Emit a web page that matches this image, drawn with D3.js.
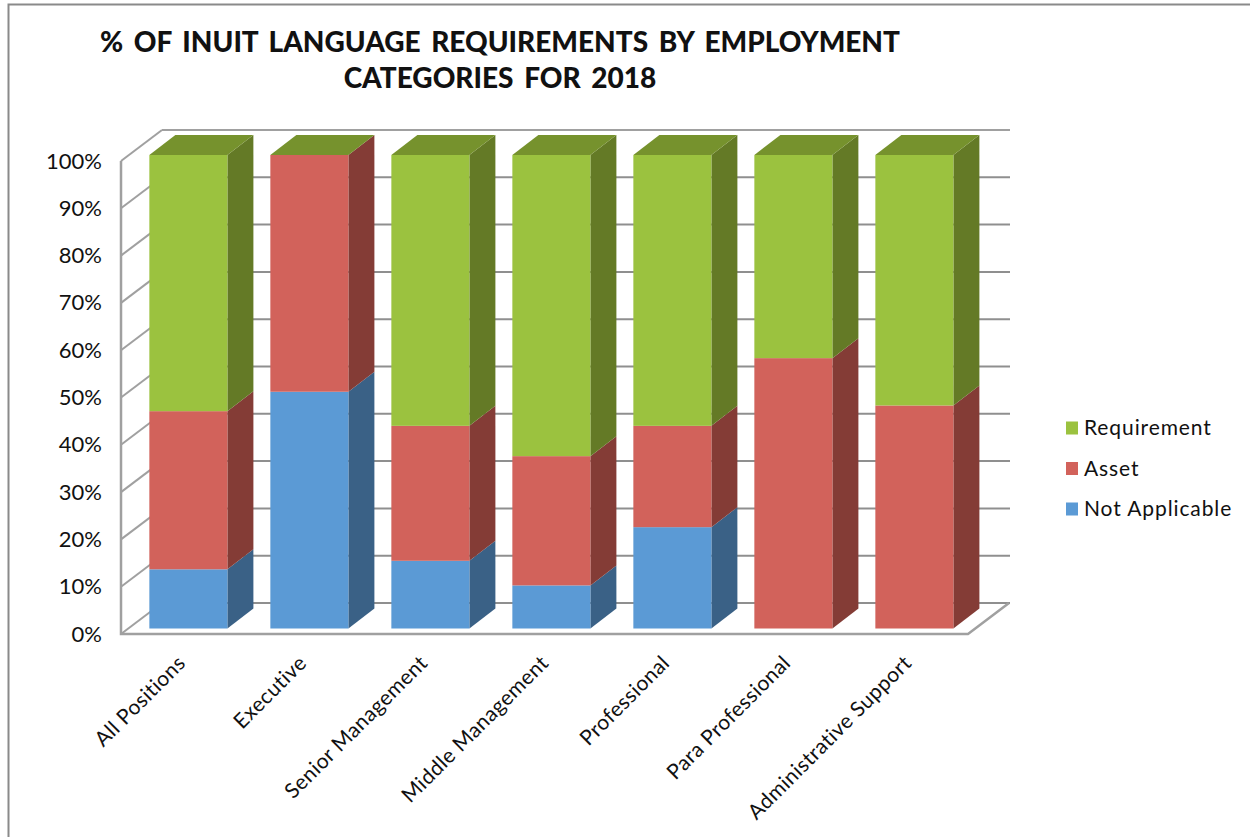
<!DOCTYPE html>
<html>
<head>
<meta charset="utf-8">
<script src="https://cdn.jsdelivr.net/npm/d3@7"></script>
<style>
  html, body { margin: 0; padding: 0; background: #fff; }
  svg { display: block; }
  text { font-family: Lato, "Open Sans", sans-serif; fill: #111; }
</style>
</head>
<body>
<script>
// Define data
const categories = ["All Positions", "Executive", "Senior Management", "Middle Management",
                    "Professional", "Para Professional", "Administrative Support"];
const notApplicable = [12.5, 50, 14.3, 9.1, 21.4, 0, 0];
const asset = [33.4, 50, 28.5, 27.3, 21.4, 57.1, 47.1];
const requirement = [54.1, 0, 57.2, 63.6, 57.2, 42.9, 52.9];
const seriesNames = ["Not Applicable", "Asset", "Requirement"];
const yTicks = [0, 10, 20, 30, 40, 50, 60, 70, 80, 90, 100];
const titleLines = ["% OF INUIT LANGUAGE REQUIREMENTS BY EMPLOYMENT", "CATEGORIES FOR 2018"];

const rows = categories.map((c, i) => ({
  category: c,
  "Not Applicable": notApplicable[i],
  "Asset": asset[i],
  "Requirement": requirement[i]
}));
const stacked = d3.stack().keys(seriesNames)(rows);

const width = 1250, height = 837;
const front = {"Not Applicable": "#5b9ad5", "Asset": "#d2625b", "Requirement": "#9bc23f"};
const side = {"Not Applicable": "#3a6186", "Asset": "#843c36", "Requirement": "#647a26"};
const top3d = {"Not Applicable": "#4a7fb0", "Asset": "#a84f49", "Requirement": "#76922d"};
const axisGrey = "#a0a0a0", gridGrey = "#8f8f8f";

const svg = d3.select("body").append("svg")
    .attr("width", width)
    .attr("height", height);

// Outer chart border, only top and left show in the picture
svg.append("path")
    .attr("d", "M8.5,837V4.5H1250")
    .attr("fill", "none")
    .attr("stroke", "#8a8a8a")
    .attr("stroke-width", 2);

// Title
svg.append("g").selectAll("text")
  .data(titleLines)
  .enter().append("text")
    .attr("x", 500)
    .attr("y", (d, i) => 52 + i * 36)
    .attr("text-anchor", "middle")
    .style("font-size", "28px")
    .style("font-weight", 900)
    .style("word-spacing", "4px")
    .text(d => d);

// Scales: wall is the front edge of the 3d box, bars sit a bit inside it
const wallY = d3.scaleLinear().domain([0, 100]).range([634, 161]);
const barY = d3.scaleLinear().domain([0, 100]).range([628.5, 155]);
const x = d3.scaleBand()
    .domain(categories)
    .range([121, 968])
    .paddingInner(0.355)
    .paddingOuter(0.1775)
    .align(0.66);
const wallDx = 41, wallDy = 31;
const barDx = 26, barDy = 20;

// Back wall gridlines
svg.append("g").selectAll("line")
  .data(yTicks)
  .enter().append("line")
    .attr("x1", x.range()[0] + wallDx)
    .attr("x2", x.range()[1] + wallDx + 1)
    .attr("y1", d => wallY(d) - wallDy)
    .attr("y2", d => wallY(d) - wallDy)
    .attr("stroke", d => d === 100 ? axisGrey : gridGrey)
    .attr("stroke-width", 2);

// Side wall gridlines
svg.append("g").selectAll("line")
  .data(yTicks)
  .enter().append("line")
    .attr("x1", x.range()[0])
    .attr("x2", x.range()[0] + wallDx)
    .attr("y1", d => wallY(d))
    .attr("y2", d => wallY(d) - wallDy)
    .attr("stroke", axisGrey)
    .attr("stroke-width", 2);

// Floor and front edges
svg.append("path")
    .attr("d", d3.line()([
      [x.range()[1] + wallDx, wallY(0) - wallDy],
      [x.range()[1], wallY(0)],
      [x.range()[0], wallY(0)],
      [x.range()[0], wallY(100)]
    ]))
    .attr("fill", "none")
    .attr("stroke", axisGrey)
    .attr("stroke-width", 2.5);

// Bars, one group per category so nearer faces draw in order
const barGroups = svg.append("g").selectAll("g")
  .data(categories)
  .enter().append("g");

barGroups.each(function(cat, i) {
  const g = d3.select(this);
  const x0 = x(cat), x1 = x0 + x.bandwidth();
  stacked.forEach(function(s) {
    const y0 = barY(s[i][0]), y1 = barY(s[i][1]);
    // side face
    g.append("path")
        .attr("d", d3.line()([[x1, y0], [x1 + barDx, y0 - barDy], [x1 + barDx, y1 - barDy], [x1, y1]]) + "Z")
        .attr("fill", side[s.key]);
    // front face
    g.append("rect")
        .attr("x", x0)
        .attr("y", y1)
        .attr("width", x.bandwidth())
        .attr("height", y0 - y1)
        .attr("fill", front[s.key]);
  });
  // top face takes the colour of the last series even when that series is zero
  const last = stacked[stacked.length - 1];
  const yt = barY(last[i][1]);
  g.append("path")
      .attr("d", d3.line()([[x0, yt], [x0 + barDx, yt - barDy], [x1 + barDx, yt - barDy], [x1, yt]]) + "Z")
      .attr("fill", top3d[last.key]);
});

// Y axis labels
const yAxis = svg.append("g")
    .attr("transform", "translate(102,0)")
    .call(d3.axisLeft(wallY).tickValues(yTicks).tickSize(0).tickPadding(0).tickFormat(d => d + "%"));
yAxis.select(".domain").remove();
yAxis.selectAll("text")
    .style("font-family", "Lato, sans-serif")
    .style("font-size", "22px")
    .attr("fill", "#111");

// X axis labels, rotated
const xAxis = svg.append("g")
    .attr("transform", "translate(-12,654)")
    .call(d3.axisBottom(x).tickSize(0).tickPadding(0));
xAxis.select(".domain").remove();
xAxis.selectAll("text")
    .attr("text-anchor", "end")
    .attr("x", 0)
    .attr("y", 0)
    .attr("dy", "0.7em")
    .attr("transform", "rotate(-45)")
    .style("font-family", "Lato, sans-serif")
    .style("font-size", "21px")
    .style("letter-spacing", "0.4px")
    .attr("fill", "#111");

// Legend
const legendNames = seriesNames.slice().reverse();
const legendY = d3.scalePoint().domain(legendNames).range([428, 509]);
const legend = svg.append("g").selectAll("g")
  .data(legendNames)
  .enter().append("g")
    .attr("transform", d => "translate(1066," + legendY(d) + ")");
legend.append("rect")
    .attr("y", -6.5)
    .attr("width", 12)
    .attr("height", 13)
    .attr("fill", d => front[d]);
legend.append("text")
    .attr("x", 18)
    .attr("dy", "0.35em")
    .style("font-size", "21px")
    .style("letter-spacing", "0.9px")
    .text(d => d);
</script>
</body>
</html>
